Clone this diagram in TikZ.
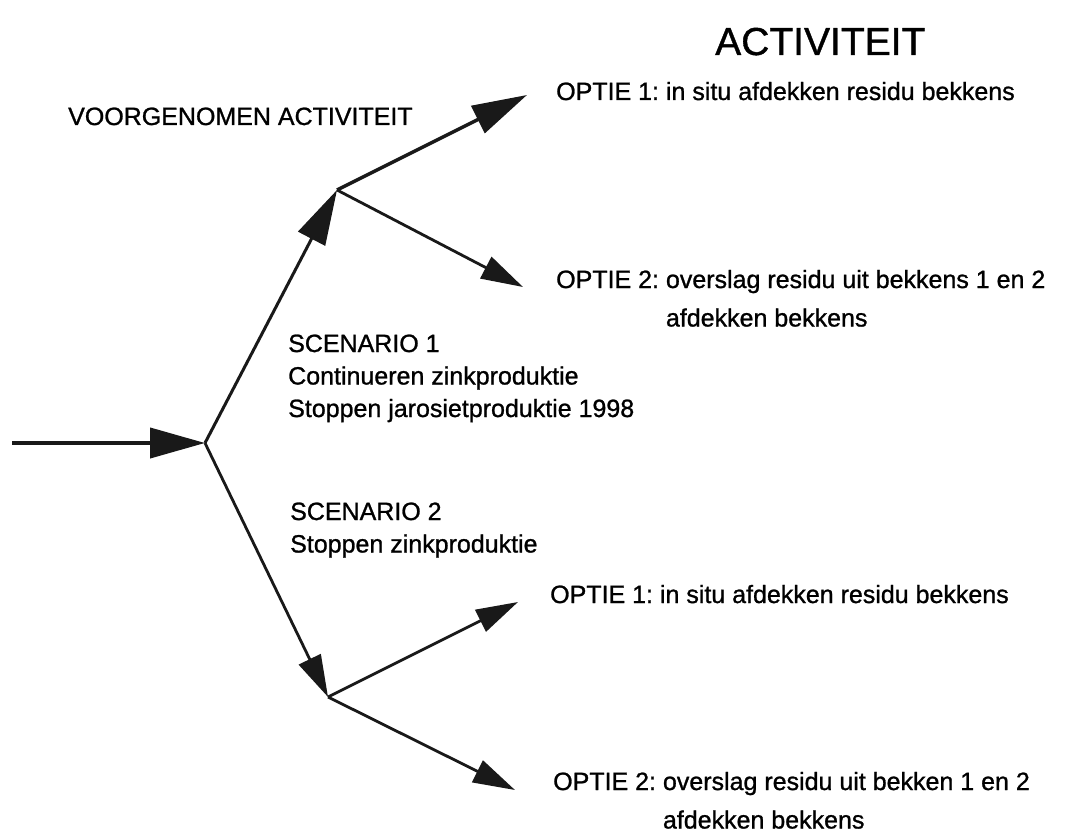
\documentclass[tikz,border=0pt]{standalone}
\usepackage{fontspec}
\setmainfont{Liberation Sans}
\newfontfamily\scanfont{Liberation Sans}[FakeBold=1.0]
\usetikzlibrary{arrows.meta}
\frenchspacing
\begin{document}
\begin{tikzpicture}[
    x=1pt,
    y=-1pt,
    tak/.style={draw=black!90, line width=2.8pt, -{Triangle[length=42pt,width=24pt]}},
    hoofdtak/.style={draw=black!90, line width=3.5pt, -{Triangle[length=55pt,width=30pt]}},
    tekst/.style={font=\scanfont\fontsize{25}{32.5}\selectfont, anchor=base west, inner sep=0pt},
    titel/.style={font=\scanfont\fontsize{39}{46}\selectfont, anchor=base west, inner sep=0pt}
]
\useasboundingbox (0,0) rectangle (1067,837);

% Vertakkingspunten en pijlpunten
\coordinate (start) at (12,443);
\coordinate (splits) at (205,443);
\coordinate (sc1) at (337,190);
\coordinate (sc2) at (328,697);
\coordinate (p11) at (527,95);
\coordinate (p12) at (523,287);
\coordinate (p21) at (518,602);
\coordinate (p22) at (515,790);

% Teksten
\node[titel] (act) at (715,55) {ACTIVITEIT};
\node[tekst] (voorg) at (68,125) {VOORGENOMEN ACTIVITEIT};
\node[tekst] (o11) at (556,100) {OPTIE 1: in situ afdekken residu bekkens};
\node[tekst] (o12) at (556,288) {\begin{tabular}[t]{@{}l@{ }l@{}}OPTIE 2: & overslag residu uit bekkens 1 en 2\\[6pt] & afdekken bekkens\end{tabular}};
\node[tekst] (scen1) at (288,352) {\begin{tabular}[t]{@{}l@{}}SCENARIO 1\\ Continueren zinkproduktie\\ Stoppen jarosietproduktie 1998\end{tabular}};
\node[tekst] (scen2) at (290,520) {\begin{tabular}[t]{@{}l@{}}SCENARIO 2\\ Stoppen zinkproduktie\end{tabular}};
\node[tekst] (o21) at (550,603) {OPTIE 1: in situ afdekken residu bekkens};
\node[tekst] (o22) at (553,790) {\begin{tabular}[t]{@{}l@{ }l@{}}OPTIE 2: & overslag residu uit bekken 1 en 2\\[6pt] & afdekken bekkens\end{tabular}};

% Pijlen
\draw[hoofdtak, line width=4pt] (start) -- (splits);
\draw[hoofdtak, line width=3pt] (splits) -- (sc1);
\draw[hoofdtak] (sc1) -- (p11);
\draw[tak] (sc1) -- (p12);
\draw[tak] (splits) -- (sc2);
\draw[tak] (sc2) -- (p21);
\draw[tak] (sc2) -- (p22);

\end{tikzpicture}
\end{document}
